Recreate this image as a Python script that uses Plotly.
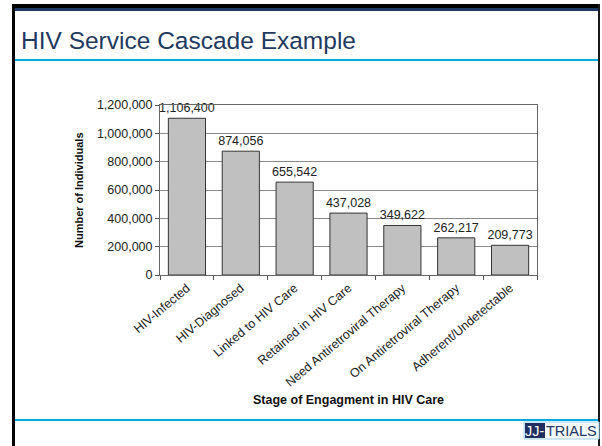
import plotly.graph_objects as go

categories = ["HIV-Infected", "HIV-Diagnosed", "Linked to HIV Care", "Retained in HIV Care",
              "Need Antiretroviral Therapy", "On Antiretroviral Therapy", "Adherent/Undetectable"]
values = [1106400, 874056, 655542, 437028, 349622, 262217, 209773]
y_ticks = [0, 200000, 400000, 600000, 800000, 1000000, 1200000]

W, H = 602, 446
L, R, T, B = 160, 65, 105, 171
PW, PH = W - L - R, H - T - B

def px(x):
    return (x - L) / PW

def py(y):
    return (H - B - y) / PH

FONT = "Liberation Sans, Arial, sans-serif"

fig = go.Figure()
fig.add_trace(go.Bar(
    x=categories, y=values,
    marker=dict(color="#C0C0C0", line=dict(color="#333333", width=1)),
    texttemplate="%{y:,}", textposition="outside", cliponaxis=False,
    constraintext="none",
    textfont=dict(family=FONT, size=12.5, color="#222222"),
    hoverinfo="skip",
))

shapes = []
def rect(x0, y0, x1, y1, color, line=None):
    shapes.append(dict(type="rect", xref="paper", yref="paper",
                       x0=px(x0), x1=px(x1), y0=py(y1), y1=py(y0),
                       fillcolor=color, line=line or dict(width=0), layer="above"))

# slide frame
rect(12, 4, 15, 446, "#000000")
rect(12, 4, 600, 8, "#000000")
rect(15, 8, 598, 11, "#1F3864")
rect(598, 4, 600, 446, "#1a1a1a")
# cyan rules
rect(15, 59, 598, 61, "#00A9E0")
rect(15, 419, 598, 421, "#00A9E0")
# logo
rect(524, 422, 599, 439, "#F4F9FD", line=dict(color="#9FD3EE", width=1))
rect(525, 423, 545, 438, "#1F2F5F")

annotations = [
    dict(text="HIV Service Cascade Example", xref="paper", yref="paper",
         x=px(19), y=py(40), xanchor="left", yanchor="middle", showarrow=False,
         font=dict(family=FONT, size=24.5, color="#1F3A60")),
    dict(text="<b>Number of Individuals</b>", xref="paper", yref="paper",
         x=px(79), y=py(190), xanchor="center", yanchor="middle", textangle=-90, showarrow=False,
         font=dict(family=FONT, size=11, color="#111111")),
    dict(text="<b>Stage of Engagment in HIV Care</b>", xref="paper", yref="paper",
         x=px(348), y=py(400), xanchor="center", yanchor="middle", showarrow=False,
         font=dict(family=FONT, size=12.5, color="#111111")),
    dict(text="JJ-", xref="paper", yref="paper",
         x=px(535), y=py(430.5), xanchor="center", yanchor="middle", showarrow=False,
         font=dict(family=FONT, size=14.5, color="#FFFFFF")),
    dict(text="TRIALS", xref="paper", yref="paper",
         x=px(544), y=py(430.5), xanchor="left", yanchor="middle", showarrow=False,
         font=dict(family=FONT, size=14.5, color="#1F3864")),
]

fig.update_layout(
    width=W, height=H,
    margin=dict(l=L, r=R, t=T, b=B, pad=0),
    paper_bgcolor="white", plot_bgcolor="white",
    showlegend=False, bargap=0.31,
    font=dict(family=FONT, size=12, color="#222222"),
    shapes=shapes, annotations=annotations,
)
fig.update_yaxes(range=[0, 1200000], tickvals=y_ticks, tickformat=",",
                 ticks="outside", ticklen=4, tickcolor="#555555",
                 showgrid=True, gridcolor="#888888", gridwidth=1,
                 showline=True, linecolor="#666666", mirror=True, zeroline=False,
                 tickfont=dict(family=FONT, size=12.5, color="#222222"))
fig.update_xaxes(tickson="boundaries", ticks="outside", ticklen=4, tickcolor="#555555",
                 tickangle=-40, showline=True, linecolor="#666666", mirror=True,
                 tickfont=dict(family=FONT, size=12.5, color="#222222"))

fig.write_html("out.html")
